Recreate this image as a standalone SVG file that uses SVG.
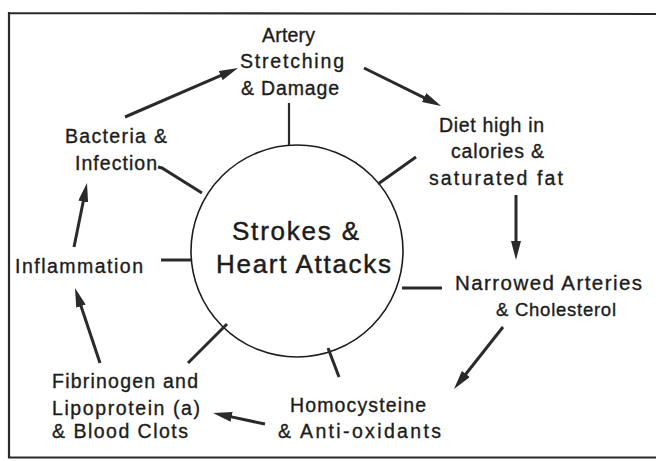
<svg xmlns="http://www.w3.org/2000/svg" width="656" height="461" viewBox="0 0 656 461">
<style>
text{font-family:"Liberation Sans",Arial,sans-serif;fill:#1c1c1c;stroke:#1c1c1c;stroke-width:0.35;font-size:19.5px}
.big{font-size:26px;stroke-width:0.45}
.nar{font-size:20.5px}
.sm{font-size:18.5px}
.frame{stroke:#2a2a2a;stroke-width:2.2;fill:none}
.arrow{stroke:#2a2a2a;stroke-width:3;fill:none;marker-end:url(#ah)}
.tick{stroke:#2a2a2a;stroke-width:3;fill:none}
</style>
<defs>
<marker id="ah" markerUnits="userSpaceOnUse" markerWidth="19" markerHeight="10" viewBox="0 0 19 10" refX="5" refY="5" orient="auto">
<path d="M0,0 L19,5 L0,10 Z" fill="#2a2a2a"/>
</marker>
</defs>
<rect width="656" height="461" fill="#fff"/>
<g id="frame">
<path class="frame" d="M8,13 L656,14 M9,12 L9,458 M8,457.5 L656,457.5"/>
</g>
<g id="center">
<circle cx="297" cy="251" r="106" fill="none" stroke="#1c1c1c" stroke-width="1.6"/>
<text class="big" x="232" y="240" textLength="127" lengthAdjust="spacing">Strokes &amp;</text>
<text class="big" x="216" y="273" textLength="175" lengthAdjust="spacing">Heart Attacks</text>
</g>
<g id="artery">
<text x="262" y="42" textLength="53" lengthAdjust="spacing">Artery</text>
<text x="240" y="68" textLength="104" lengthAdjust="spacing">Stretching</text>
<text x="241" y="95" textLength="98" lengthAdjust="spacing">&amp; Damage</text>
</g>
<g id="diet">
<text x="439" y="132" textLength="105" lengthAdjust="spacing">Diet high in</text>
<text x="451" y="158" textLength="93" lengthAdjust="spacing">calories &amp;</text>
<text x="429" y="185" textLength="134" lengthAdjust="spacing">saturated fat</text>
</g>
<g id="narrowed">
<text class="nar" x="455" y="290" textLength="187" lengthAdjust="spacing">Narrowed Arteries</text>
<text class="sm" x="496" y="316" textLength="120" lengthAdjust="spacing">&amp; Cholesterol</text>
</g>
<g id="homocysteine">
<text x="290" y="412" textLength="136" lengthAdjust="spacing">Homocysteine</text>
<text x="278" y="438" textLength="163" lengthAdjust="spacing">&amp; Anti-oxidants</text>
</g>
<g id="fibrinogen">
<text x="52" y="388" textLength="146" lengthAdjust="spacing">Fibrinogen and</text>
<text x="52" y="415" textLength="148" lengthAdjust="spacing">Lipoprotein (a)</text>
<text x="52" y="438" textLength="136" lengthAdjust="spacing">&amp; Blood Clots</text>
</g>
<g id="inflammation">
<text x="15" y="273" textLength="128" lengthAdjust="spacing">Inflammation</text>
</g>
<g id="bacteria">
<text x="65" y="143" textLength="102" lengthAdjust="spacing">Bacteria &amp;</text>
<text x="75" y="170" textLength="82" lengthAdjust="spacing">Infection</text>
</g>
<g id="connectors">
<line class="arrow" x1="125" y1="117" x2="225.2" y2="73.6"/>
<line class="arrow" x1="364" y1="68" x2="428.5" y2="99.8"/>
<line class="arrow" x1="516" y1="195" x2="516" y2="246"/>
<line class="arrow" x1="503" y1="327" x2="462.7" y2="378"/>
<line class="arrow" x1="265" y1="424" x2="226.7" y2="415.9"/>
<line class="arrow" x1="100" y1="363" x2="79.4" y2="301.3"/>
<line class="arrow" x1="74" y1="247" x2="84.2" y2="196.7"/>
<line class="tick" x1="289" y1="103" x2="289" y2="145" style="stroke-width:2.2"/>
<path class="tick" d="M158,167 L162,168 L202,193"/>
<line class="tick" x1="416" y1="157" x2="378" y2="184"/>
<line class="tick" x1="161" y1="260" x2="191" y2="260"/>
<line class="tick" x1="402" y1="288" x2="442" y2="288"/>
<line class="tick" x1="188" y1="363" x2="227" y2="324"/>
<line class="tick" x1="328" y1="348" x2="339" y2="377"/>
</g>
</svg>
